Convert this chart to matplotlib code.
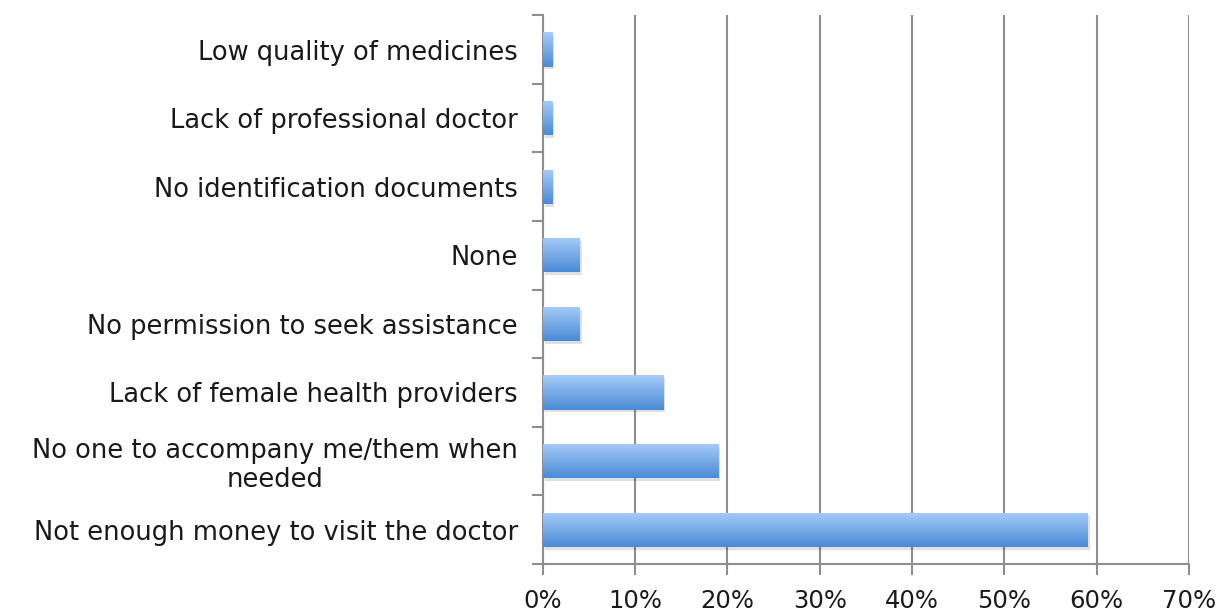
import numpy as np
import matplotlib
matplotlib.use("Agg")
import matplotlib.pyplot as plt
from matplotlib.colors import LinearSegmentedColormap

# data, bottom to top as drawn
categories = [
    "Not enough money to visit the doctor",
    "No one to accompany me/them when\nneeded",
    "Lack of female health providers",
    "No permission to seek assistance",
    "None",
    "No identification documents",
    "Lack of professional doctor",
    "Low quality of medicines",
]
values = [59, 19, 13, 4, 4, 1, 1, 1]
xticks = [0, 10, 20, 30, 40, 50, 60, 70]

plt.rcParams['font.family'] = ['DejaVu Sans']

fig = plt.figure(figsize=(12.17, 6.11), dpi=100)
ax = fig.add_axes([0.446, 0.077, 0.531, 0.898])

grey = "#8e8e8e"
ypos = np.arange(len(categories))
bars = ax.barh(ypos, values, height=0.5, color="none", zorder=3)

# gradient fill: light on top, darker at the bottom
cmap = LinearSegmentedColormap.from_list("bar", ["#4a8ad6", "#a6cbf7"])
grad = np.linspace(0, 1, 64).reshape(-1, 1)
for b in bars:
    x0, y0 = b.get_x(), b.get_y()
    w, h = b.get_width(), b.get_height()
    # soft shadow
    ax.barh(y0 + h / 2 - 0.04, w, height=h, left=x0 + 0.25,
            color="#000000", alpha=0.12, zorder=2)
    im = ax.imshow(grad, cmap=cmap, aspect="auto", origin="lower",
                   extent=[x0, x0 + w, y0, y0 + h], zorder=3)
    im.set_clip_path(b)

ax.set_xlim(0, 70)
ax.set_ylim(-0.5, len(categories) - 0.5)
ax.set_xticks(xticks)
ax.set_xticklabels([f"{t}%" for t in xticks])
ax.set_yticks(ypos)
ax.set_yticklabels(categories, multialignment="center", linespacing=1.15)
ax.set_yticks(np.arange(-0.5, len(categories), 1), minor=True)

ax.tick_params(axis="y", which="major", length=0, pad=18, labelsize=18.5,
               labelcolor="#1a1a1a")
ax.tick_params(axis="y", which="minor", length=8, width=1.5, color=grey,
               direction="out")
ax.tick_params(axis="x", length=8, width=1.5, color=grey, labelsize=17.5,
               labelcolor="#1a1a1a", pad=10)

ax.grid(axis="x", color=grey, linewidth=1.5, zorder=0)
ax.set_axisbelow(True)
for s in ["top", "right"]:
    ax.spines[s].set_visible(False)
for s in ["left", "bottom"]:
    ax.spines[s].set_color(grey)
    ax.spines[s].set_linewidth(1.5)

fig.savefig("out.png", dpi=100)
